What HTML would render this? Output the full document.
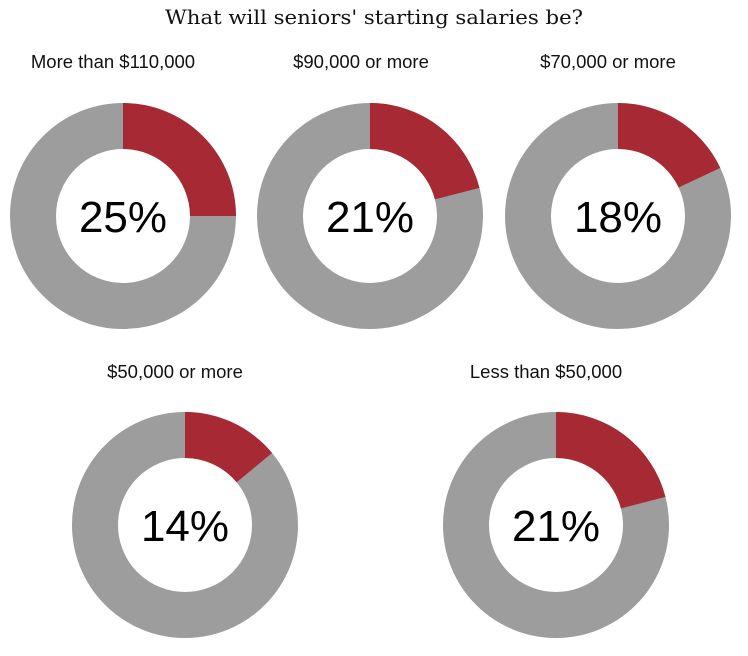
<!DOCTYPE html>
<html><head><meta charset="utf-8"><style>
body{margin:0;background:#fff;width:748px;height:651px;overflow:hidden}
</style></head><body>
<svg width="748" height="651" viewBox="0 0 748 651" xmlns="http://www.w3.org/2000/svg">
<text x="374" y="24" text-anchor="middle" font-family="DejaVu Serif, serif" font-size="20" fill="#111" textLength="418" lengthAdjust="spacingAndGlyphs">What will seniors' starting salaries be?</text>
<g font-family="Liberation Sans, sans-serif" font-size="18.5" fill="#111" text-anchor="middle">
<text x="113" y="68">More than $110,000</text>
<text x="361" y="68">$90,000 or more</text>
<text x="608" y="68">$70,000 or more</text>
<text x="175" y="378">$50,000 or more</text>
<text x="546" y="378">Less than $50,000</text>
</g>
<g id="d"></g>
<script>
var data=[[123,216,25],[370,216,21],[618,216,18],[185,525,14],[556,525,21]];
var R=113,r=67,ns="http://www.w3.org/2000/svg",g=document.getElementById('d');
function el(t,a){var e=document.createElementNS(ns,t);for(var k in a)e.setAttribute(k,a[k]);g.appendChild(e);return e;}
data.forEach(function(d){
 var cx=d[0],cy=d[1],p=d[2];
 el('circle',{cx:cx,cy:cy,r:(R+r)/2,fill:'none',stroke:'#9d9d9d','stroke-width':R-r});
 var a=p/100*2*Math.PI;
 var x1=cx+R*Math.sin(a),y1=cy-R*Math.cos(a),x2=cx+r*Math.sin(a),y2=cy-r*Math.cos(a);
 el('path',{d:'M'+cx+','+(cy-R)+' A'+R+','+R+' 0 0 1 '+x1+','+y1+' L'+x2+','+y2+' A'+r+','+r+' 0 0 0 '+cx+','+(cy-r)+'Z',fill:'#a72933'});
 var t=el('text',{x:cx,y:cy+16,'text-anchor':'middle','font-family':'Liberation Sans, sans-serif','font-size':'44',fill:'#000'});
 t.textContent=p+'%';
});
</script>
</svg>
</body></html>
